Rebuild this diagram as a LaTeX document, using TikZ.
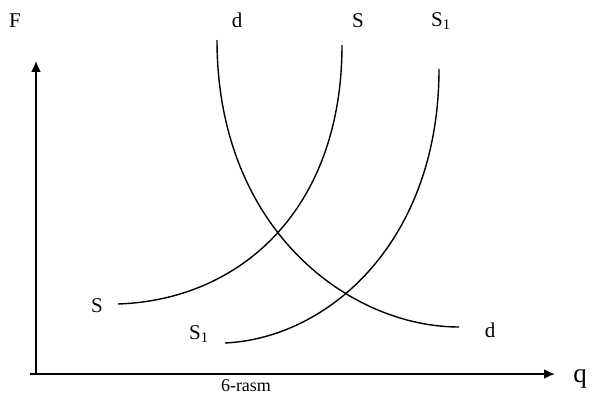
\documentclass[tikz,border=0pt]{standalone}
\usepackage{fontspec}
\setmainfont{Liberation Serif}
\usetikzlibrary{arrows.meta}
\begin{document}
\begin{tikzpicture}[x=1pt,y=-1pt,
  curve/.style={line width=1.4pt},
  axis/.style={line width=1.8pt,-{Latex[length=11pt,width=10pt]}},
  lbl/.style={inner sep=0pt,font=\fontsize{21}{21}\selectfont}]
\useasboundingbox (0,0) rectangle (600,396);
\coordinate (O) at (36,375);
\coordinate (ytop) at (36,61);
\coordinate (xend) at (555,374);
\coordinate (xstart) at (30,374);
\draw[axis] (O) -- (ytop);
\draw[axis] (xstart) -- (xend);
% supply S
\coordinate (s0) at (118,304);
\coordinate (s1) at (342,45);
\draw[curve] (s0) .. controls (240,300) and (342,210) .. (s1);
% supply S1
\coordinate (t0) at (225,343);
\coordinate (t1) at (439,69);
\draw[curve] (t0) .. controls (330,338) and (439,240) .. (t1);
% demand d
\coordinate (d0) at (217,40);
\coordinate (d1) at (459,327);
\draw[curve] (d0) .. controls (217,230) and (350,327) .. (d1);
% labels
\node[lbl] (F) at (15,21) {F};
\node[lbl] (dtop) at (237,20) {d};
\node[lbl] (stop) at (358,21) {S};
\node[lbl] (s1top) at (441,21) {S\textsubscript{1}};
\node[lbl] (sleft) at (97,306) {S};
\node[lbl] (s1bot) at (199,334) {S\textsubscript{1}};
\node[lbl] (dright) at (490,330) {d};
\node[lbl,font=\fontsize{27}{27}\selectfont] (q) at (580,379) {q};
\node[inner sep=0pt,anchor=base,font=\fontsize{18}{18}\selectfont] (cap) at (246,391) {6-rasm};
\end{tikzpicture}
\end{document}
